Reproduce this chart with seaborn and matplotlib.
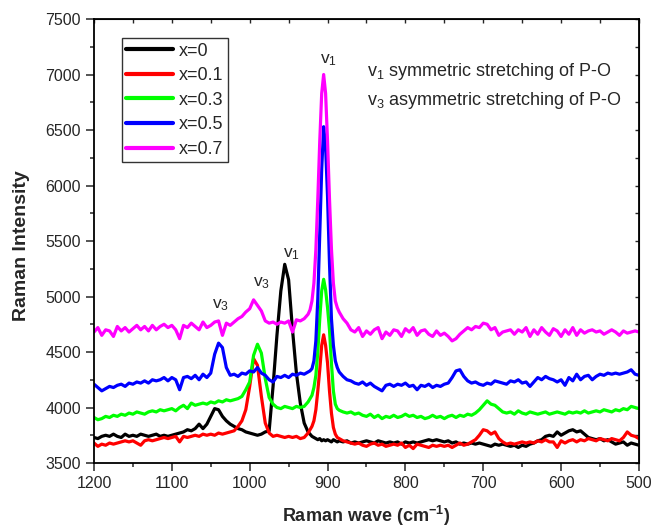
import numpy as np
import pandas as pd
import matplotlib
matplotlib.use("Agg")
import matplotlib.pyplot as plt
import seaborn as sns
from matplotlib.lines import Line2D

# ---------------- data ----------------
wave = [1200, 1195, 1190, 1185, 1180, 1175, 1170, 1165, 1160, 1155, 1150, 1145, 1140, 1135,
        1130, 1125, 1120, 1115, 1110, 1105, 1100, 1095, 1090, 1085, 1080, 1075, 1070, 1065,
        1060, 1055, 1050, 1045, 1040, 1035, 1030, 1025, 1020, 1015, 1010, 1005, 1000, 995,
        990, 985, 980, 975, 970, 965, 960, 955, 950, 945, 940, 935, 930, 925,
        922.5, 920, 917.5, 915, 912.5, 910, 907.5, 905, 902.5, 900, 897.5, 895, 892.5, 890, 887.5,
        885, 880, 875, 870, 865, 860, 855, 850, 845, 840, 835, 830, 825, 820, 815, 810, 805,
        800, 795, 790, 785, 780, 775, 770, 765, 760, 755, 750, 745, 740, 735, 730, 725, 720,
        715, 710, 705, 700, 695, 690, 685, 680, 675, 670, 665, 660, 655, 650, 645, 640, 635,
        630, 625, 620, 615, 610, 605, 600, 595, 590, 585, 580, 575, 570, 565, 560, 555, 550,
        545, 540, 535, 530, 525, 520, 515, 510, 505, 500]

x0 = [3730, 3720, 3740, 3750, 3740, 3760, 3740, 3730, 3760, 3740, 3750, 3740, 3760, 3750,
      3740, 3750, 3760, 3740, 3750, 3740, 3750, 3760, 3770, 3780, 3800, 3790, 3810, 3850,
      3810, 3850, 3920, 3990, 3980, 3920, 3880, 3850, 3830, 3810, 3800, 3780, 3770, 3760,
      3750, 3760, 3780, 3790, 4190, 4650, 5050, 5290, 5150, 4700, 4310, 4040, 3860, 3780,
      3760, 3740, 3730, 3720, 3710, 3720, 3700, 3710, 3700, 3710, 3700, 3690, 3710, 3700, 3690,
      3700, 3690, 3700, 3680, 3690, 3680, 3690, 3700, 3690, 3680, 3700, 3690, 3680, 3690, 3680, 3690, 3670,
      3690, 3680, 3690, 3680, 3690, 3700, 3710, 3700, 3710, 3700, 3690, 3700, 3680, 3690, 3670, 3680, 3670,
      3680, 3670, 3680, 3670, 3660, 3650, 3670, 3660, 3670, 3660, 3650, 3660, 3640, 3660, 3650, 3670, 3680,
      3700, 3710, 3740, 3750, 3740, 3780, 3750, 3770, 3790, 3800, 3780, 3790, 3760, 3730, 3720, 3710, 3720,
      3700, 3710, 3690, 3670, 3680, 3690, 3660, 3680, 3670, 3660]

x01 = [3680, 3650, 3670, 3660, 3680, 3670, 3680, 3690, 3700, 3690, 3700, 3680, 3660, 3700,
       3710, 3700, 3710, 3720, 3730, 3720, 3730, 3740, 3690, 3740, 3730, 3740, 3750, 3740,
       3760, 3750, 3760, 3750, 3770, 3760, 3770, 3780, 3790, 3830, 3880, 3980, 4190, 4440,
       4380, 4100, 3860, 3770, 3740, 3750, 3740, 3730, 3740, 3730, 3740, 3720, 3730, 3770,
       3800, 3830, 3880, 3980, 4150, 4340, 4560, 4655, 4560, 4400, 4150, 3950, 3820, 3760, 3730,
       3720, 3700, 3690, 3680, 3670, 3680, 3660, 3650, 3670, 3680, 3660, 3670, 3650, 3660, 3670, 3660, 3680,
       3640, 3660, 3630, 3670, 3660, 3650, 3640, 3660, 3650, 3660, 3650, 3660, 3640, 3660, 3680, 3660, 3670,
       3690, 3710, 3750, 3800, 3790, 3760, 3780, 3720, 3690, 3670, 3680, 3670, 3680, 3690, 3680, 3690, 3680,
       3700, 3690, 3710, 3690, 3690, 3640, 3700, 3680, 3700, 3710, 3690, 3710, 3700, 3720, 3710, 3700, 3720,
       3710, 3700, 3720, 3710, 3700, 3730, 3780, 3750, 3740, 3720]

x03 = [3910, 3890, 3900, 3920, 3910, 3930, 3920, 3940, 3930, 3950, 3940, 3960, 3950, 3940,
       3960, 3970, 3960, 3980, 3970, 3980, 3990, 3970, 4000, 4020, 3990, 4040, 4020, 4030,
       4040, 4030, 4050, 4040, 4060, 4050, 4070, 4060, 4070, 4080, 4100, 4160, 4230, 4470,
       4570, 4490, 4260, 4090, 4030, 4000, 3990, 4010, 4000, 3990, 4010, 4000, 4010, 4050,
       4080, 4110, 4180, 4290, 4500, 4800, 5050, 5155, 5060, 4900, 4700, 4400, 4150, 4030, 3990,
       3975, 3960, 3950, 3960, 3940, 3950, 3930, 3920, 3940, 3910, 3930, 3900, 3920, 3910, 3930, 3910, 3920,
       3940, 3920, 3930, 3910, 3920, 3900, 3910, 3930, 3910, 3920, 3900, 3920, 3930, 3910, 3930, 3920, 3940,
       3930, 3950, 3980, 4020, 4060, 4030, 4020, 3990, 3960, 3950, 3960, 3940, 3970, 3950, 3940, 3960, 3950,
       3940, 3950, 3960, 3940, 3950, 3960, 3950, 3940, 3960, 3950, 3960, 3950, 3970, 3950, 3960, 3970, 3960,
       3980, 3970, 3960, 3980, 3970, 3990, 3980, 4010, 4000, 3990]

x05 = [4210, 4180, 4150, 4170, 4190, 4180, 4200, 4210, 4190, 4220, 4210, 4230, 4220, 4240,
       4220, 4250, 4240, 4250, 4270, 4240, 4270, 4250, 4160, 4270, 4280, 4260, 4290, 4250,
       4300, 4270, 4310, 4480, 4580, 4540, 4360, 4290, 4300, 4280, 4310, 4300, 4330, 4320,
       4360, 4310, 4290, 4250, 4230, 4280, 4270, 4290, 4270, 4300, 4290, 4310, 4300, 4320,
       4330, 4350, 4420, 4600, 4980, 5550, 6150, 6530, 6350, 5900, 5300, 4800, 4560, 4420, 4360,
       4320, 4280, 4250, 4240, 4220, 4210, 4230, 4200, 4220, 4190, 4170, 4150, 4200, 4210, 4190, 4210, 4200,
       4220, 4190, 4200, 4160, 4200, 4190, 4210, 4180, 4200, 4190, 4210, 4220, 4270, 4330, 4340, 4280, 4240,
       4220, 4230, 4210, 4200, 4220, 4210, 4240, 4230, 4220, 4210, 4240, 4230, 4250, 4220, 4230, 4190, 4230,
       4270, 4250, 4280, 4260, 4250, 4230, 4250, 4200, 4270, 4240, 4300, 4250, 4280, 4290, 4250, 4280, 4300,
       4290, 4310, 4300, 4310, 4300, 4310, 4320, 4340, 4300, 4290]

x07 = [4680, 4720, 4650, 4700, 4690, 4640, 4730, 4690, 4720, 4680, 4710, 4740, 4700, 4730,
       4690, 4740, 4700, 4730, 4750, 4720, 4740, 4700, 4620, 4740, 4720, 4760, 4730, 4700,
       4770, 4720, 4740, 4770, 4780, 4650, 4760, 4740, 4770, 4800, 4820, 4860, 4890, 4970,
       4920, 4870, 4780, 4760, 4770, 4750, 4770, 4760, 4780, 4680, 4790, 4780, 4800, 4840,
       4880, 4960, 5120, 5420, 5880, 6400, 6830, 7000, 6830, 6400, 5880, 5430, 5120, 4960, 4900,
       4860, 4800, 4760, 4700, 4680, 4720, 4640, 4690, 4660, 4700, 4720, 4620, 4680, 4650, 4700, 4690, 4640,
       4710, 4680, 4720, 4650, 4690, 4700, 4660, 4640, 4690, 4650, 4670, 4640, 4600, 4620, 4660, 4690, 4720,
       4700, 4730, 4720, 4760, 4750, 4700, 4720, 4650, 4680, 4690, 4700, 4660, 4700, 4680, 4720, 4640, 4700,
       4660, 4720, 4680, 4650, 4710, 4690, 4640, 4700, 4660, 4720, 4650, 4700, 4670, 4690, 4700, 4680, 4690,
       4660, 4680, 4700, 4680, 4650, 4690, 4670, 4680, 4690, 4680]

labels = ["x=0", "x=0.1", "x=0.3", "x=0.5", "x=0.7"]
colors = ["#000000", "#ff0000", "#00ff00", "#0000ff", "#ff00ff"]
series = [x0, x01, x03, x05, x07]

x_ticks = [1200, 1100, 1000, 900, 800, 700, 600, 500]
y_ticks = [3500, 4000, 4500, 5000, 5500, 6000, 6500, 7000, 7500]

# ---------------- plotting ----------------
sns.set_style("ticks")
plt.rcParams["font.family"] = ["Liberation Sans", "DejaVu Sans"]
plt.rcParams["mathtext.default"] = "regular"

rows = []
for lab, ys in zip(labels, series):
    for xv, yv in zip(wave, ys):
        rows.append((xv, yv, lab))
df = pd.DataFrame(rows, columns=["wave", "intensity", "sample"])

fig = plt.figure(figsize=(6.54, 5.28), dpi=100)
ax = fig.add_axes([0.1437, 0.1231, 0.977 - 0.1437, 0.964 - 0.1231])

sns.lineplot(data=df, x="wave", y="intensity", hue="sample", hue_order=labels,
             palette=colors, sort=False, estimator=None, linewidth=2.3,
             ax=ax, legend=False)

ax.set_xlim(1200, 500)
ax.set_ylim(3500, 7500)
ax.set_xticks(x_ticks)
ax.set_yticks(y_ticks)
ax.set_xticks([v - 50 for v in x_ticks[:-1]], minor=True)
ax.set_yticks([v + 250 for v in y_ticks[:-1]], minor=True)
ax.tick_params(which="major", direction="out", length=6, width=1.1, labelsize=11.5)
ax.tick_params(which="minor", direction="out", length=3, width=1.1)
for s in ax.spines.values():
    s.set_visible(True)
    s.set_linewidth(1.3)
    s.set_color("black")

secx = ax.secondary_xaxis("top")
secx.set_xticks([v - 50 for v in x_ticks[:-1]] + x_ticks)
secx.tick_params(direction="in", length=3, width=1.0, labeltop=False)
secx.set_xticklabels([])
secy = ax.secondary_yaxis("right")
secy.set_yticks([v + 250 for v in y_ticks[:-1]] + y_ticks)
secy.tick_params(direction="in", length=3, width=1.0, labelright=False)
secy.set_yticklabels([])

ax.set_xlabel("Raman wave (cm$^{-1}$)", fontsize=13, fontweight="bold")
ax.xaxis.set_label_coords(0.5, -0.092)
ax.set_ylabel("Raman Intensity", fontsize=14, fontweight="bold")
ax.yaxis.set_label_coords(-0.118, 0.49)

handles = [Line2D([0], [0], color=c, lw=3) for c in colors]
leg = ax.legend(handles, labels, loc="upper left", bbox_to_anchor=(0.051, 0.957),
                borderaxespad=0, fontsize=13, frameon=True, fancybox=False,
                edgecolor="black", handlelength=2.6, handletextpad=0.3,
                labelspacing=0.42, borderpad=0.25)
leg.get_frame().set_linewidth(1.0)

# peak labels
ax.text(909.7, 7104, "v$_1$", fontsize=12.5, ha="left", va="baseline")
ax.text(957, 5356, "v$_1$", fontsize=12.5, ha="left", va="baseline")
ax.text(996, 5088, "v$_3$", fontsize=12.5, ha="left", va="baseline")
ax.text(1049, 4896, "v$_3$", fontsize=12.5, ha="left", va="baseline")

ax.text(849, 6986, "v$_1$ symmetric stretching of P-O", fontsize=13, ha="left", va="baseline")
ax.text(849, 6725, "v$_3$ asymmetric stretching of P-O", fontsize=13, ha="left", va="baseline")

fig.savefig("out.png", dpi=100)
